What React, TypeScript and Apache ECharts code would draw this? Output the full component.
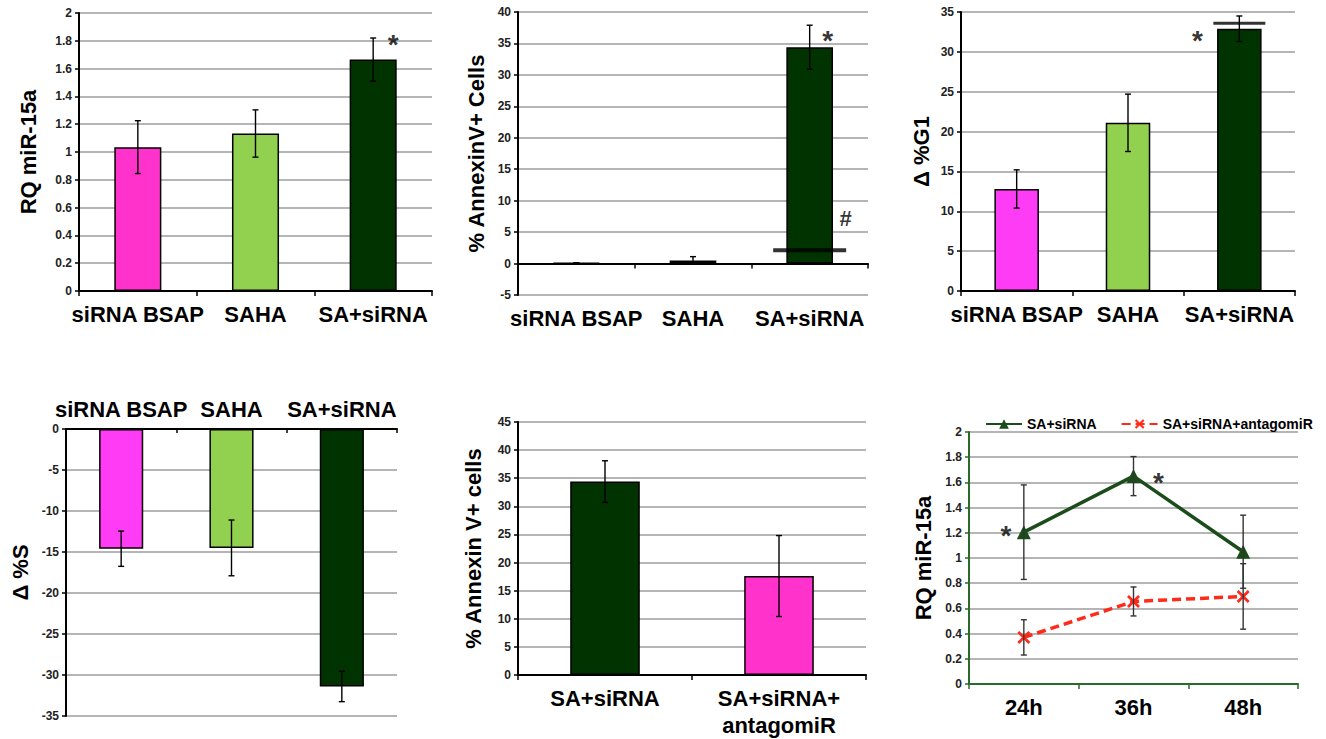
import React, { useEffect, useRef } from 'react';
import * as echarts from 'echarts';

const FONT = '"Liberation Sans", Arial, sans-serif';
const PINK = '#FF33CC';
const MAGENTA = '#FF3CF5';
const LIGHT = '#92D050';
const DARK = '#013301';
const LINE_GREEN = '#1A4D1A';
const LINE_RED = '#FF2A1A';

// Panel A: RQ miR-15a
const cats3 = ['siRNA BSAP', 'SAHA', 'SA+siRNA'];
const rqValues = [1.035, 1.133, 1.665];
const rqErrors = [0.19, 0.17, 0.155];
// Panel B: % AnnexinV+ Cells
const annexinValues = [0.1, 0.5, 34.4];
const annexinErrors = [0, 0.6, 3.5];
const annexinAntagomiRLevel = 2.1;
// Panel C: Δ %G1
const g1Values = [12.8, 21.1, 32.9];
const g1Errors = [2.4, 3.6, 1.6];
const g1Bracket = 33.6;
// Panel D: Δ %S
const sValues = [-14.6, -14.5, -31.4];
const sErrors = [2.15, 3.4, 1.85];
// Panel E: % Annexin V+ cells
const cats2 = ['SA+siRNA', 'SA+siRNA+\nantagomiR'];
const annexin2Values = [34.4, 17.6];
const annexin2Errors = [3.7, 7.2];
// Panel F: RQ miR-15a time course
const hours = ['24h', '36h', '48h'];
const lineSA = [1.205, 1.65, 1.05];
const lineSAErr = [0.375, 0.155, 0.29];
const lineAnt = [0.37, 0.655, 0.695];
const lineAntErr = [0.14, 0.115, 0.26];

const X_PATH = 'path://M0,1.5L1.5,0L5,3.5L8.5,0L10,1.5L6.5,5L10,8.5L8.5,10L5,6.5L1.5,10L0,8.5L3.5,5Z';

const errData = (vals: number[], errs: number[]) => vals.map((v, i) => [i, v - errs[i], v + errs[i]]);

const errorSeries = (axisIndex: number, data: number[][], color = '#000', xAxisIndex?: number) => ({
  type: 'custom',
  xAxisIndex: xAxisIndex ?? axisIndex,
  yAxisIndex: axisIndex,
  data,
  z: 6,
  encode: { x: 0, y: [1, 2] },
  renderItem: (params: any, api: any) => {
    const x = api.value(0);
    const lo = api.coord([x, api.value(1)]);
    const hi = api.coord([x, api.value(2)]);
    const cw = 3;
    const style = { stroke: color, lineWidth: 1.4 };
    return {
      type: 'group',
      children: [
        { type: 'line', shape: { x1: lo[0], y1: lo[1], x2: hi[0], y2: hi[1] }, style },
        { type: 'line', shape: { x1: hi[0] - cw, y1: hi[1], x2: hi[0] + cw, y2: hi[1] }, style },
        { type: 'line', shape: { x1: lo[0] - cw, y1: lo[1], x2: lo[0] + cw, y2: lo[1] }, style },
      ],
    };
  },
});

const barSeries = (axisIndex: number, vals: number[], colors: string[], xAxisIndex?: number) => ({
  type: 'bar',
  xAxisIndex: xAxisIndex ?? axisIndex,
  yAxisIndex: axisIndex,
  barWidth: '40%',
  data: vals.map((v, i) => ({ value: v, itemStyle: { color: colors[i], borderColor: '#000', borderWidth: 1.5 } })),
  z: 3,
});

const textMark = (axisIndex: number, data: number[][], text: string, offset: number[], fontSize = 28, xAxisIndex?: number) => ({
  type: 'scatter',
  xAxisIndex: xAxisIndex ?? axisIndex,
  yAxisIndex: axisIndex,
  data,
  symbolSize: 1,
  itemStyle: { color: 'transparent' },
  z: 10,
  label: {
    show: true,
    formatter: text,
    position: 'inside',
    offset,
    fontFamily: FONT,
    fontWeight: 'bold',
    fontSize,
    color: '#000',
  },
});

const hBar = (axisIndex: number, data: number[][], width: number, height: number, xAxisIndex?: number) => ({
  type: 'scatter',
  xAxisIndex: xAxisIndex ?? axisIndex,
  yAxisIndex: axisIndex,
  data,
  symbol: 'rect',
  symbolSize: [width, height],
  itemStyle: { color: '#000' },
  z: 8,
});

const yAxis = (gi: number, min: number, max: number, interval: number, name: string, nameGap: number, axisColor = '#000') => ({
  type: 'value',
  gridIndex: gi,
  min,
  max,
  interval,
  name,
  nameLocation: 'middle',
  nameGap,
  nameTextStyle: { fontFamily: FONT, fontWeight: 'bold', fontSize: 22, color: '#000' },
  axisLine: { show: true, lineStyle: { color: axisColor, width: 2 } },
  axisTick: { show: true, length: 4, lineStyle: { color: axisColor, width: 1.5 } },
  axisLabel: { fontFamily: FONT, fontWeight: 'bold', fontSize: 12, color: '#222', margin: 7 },
  splitLine: { show: true, lineStyle: { color: '#9c9c9c', width: 1.5 } },
});

const xAxis = (gi: number, data: string[], extra: any = {}, axisColor = '#000') => ({
  type: 'category',
  gridIndex: gi,
  data,
  axisLine: { show: true, lineStyle: { color: axisColor, width: 2 } },
  axisTick: { show: true, length: 5, interval: 0, alignWithLabel: false, lineStyle: { color: axisColor, width: 1.5 } },
  axisLabel: { interval: 0, fontFamily: FONT, fontWeight: 'bold', fontSize: 22, color: '#000', margin: 10, lineHeight: 27 },
  splitLine: { show: false },
  ...extra,
});

export default function App() {
  const ref = useRef<HTMLDivElement>(null);
  useEffect(() => {
    if (!ref.current) return;
    const chart = echarts.init(ref.current, undefined, { renderer: 'svg' });
    const option: any = {
      animation: false,
      backgroundColor: '#fff',
      grid: [
        { left: 79, top: 13, width: 353, height: 278 },
        { left: 518, top: 12, width: 350, height: 283 },
        { left: 961, top: 12, width: 334, height: 279 },
        { left: 66, top: 429, width: 331, height: 287 },
        { left: 518, top: 422, width: 348, height: 256 },
        { left: 969, top: 432, width: 329, height: 252 },
      ],
      legend: {
        left: 980,
        top: 412,
        itemWidth: 36,
        itemHeight: 12,
        itemGap: 24,
        textStyle: { fontFamily: FONT, fontWeight: 'bold', fontSize: 14, color: '#000' },
        data: ['SA+siRNA', 'SA+siRNA+antagomiR'],
      },
      xAxis: [
        xAxis(0, cats3),
        xAxis(1, cats3, {
          axisLine: { show: false, onZero: false },
          axisTick: { show: false },
        }),
        xAxis(2, cats3),
        xAxis(3, cats3, {
          position: 'top',
          axisTick: { show: true, inside: true, length: 4, interval: 0, lineStyle: { color: '#000', width: 1.5 } },
          axisLabel: { interval: 0, fontFamily: FONT, fontWeight: 'bold', fontSize: 22, color: '#000', margin: 9 },
        }),
        xAxis(4, cats2),
        xAxis(5, hours, {}, '#2A6A2A'),
        xAxis(1, cats3, {
          position: 'top',
          axisLine: { show: true, onZero: true, lineStyle: { color: '#000', width: 2 } },
          axisTick: { show: true, inside: true, length: 5, interval: 0, lineStyle: { color: '#000', width: 1.5 } },
          axisLabel: { show: false },
        }),
      ],
      yAxis: [
        yAxis(0, 0, 2, 0.2, 'RQ miR-15a', 40),
        yAxis(1, -5, 40, 5, '% AnnexinV+ Cells', 31),
        yAxis(2, 0, 35, 5, 'Δ %G1', 29),
        yAxis(3, -35, 0, 5, 'Δ %S', 35),
        yAxis(4, 0, 45, 5, '% Annexin V+ cells', 34),
        yAxis(5, 0, 2, 0.2, 'RQ miR-15a', 35, '#2A6A2A'),
      ],
      series: [
        // Panel A
        barSeries(0, rqValues, [PINK, LIGHT, DARK]),
        errorSeries(0, errData(rqValues, rqErrors)),
        textMark(0, [[2, 1.81]], '*', [20, 5]),
        // Panel B
        barSeries(1, annexinValues, [PINK, LIGHT, DARK]),
        errorSeries(1, errData(annexinValues, annexinErrors)),
        hBar(1, [[2, annexinAntagomiRLevel]], 73, 4),
        textMark(1, [[2, 36.5]], '*', [18, 6]),
        textMark(1, [[2, 7.2]], '#', [36, 0], 22),
        // Panel C
        barSeries(2, g1Values, [MAGENTA, LIGHT, DARK]),
        errorSeries(2, errData(g1Values, g1Errors)),
        hBar(2, [[2, g1Bracket]], 52, 3),
        textMark(2, [[2, 32.3]], '*', [-42, 7]),
        // Panel D
        barSeries(3, sValues, [MAGENTA, LIGHT, DARK]),
        errorSeries(3, errData(sValues, sErrors)),
        // Panel E
        barSeries(4, annexin2Values, [DARK, PINK]),
        errorSeries(4, errData(annexin2Values, annexin2Errors)),
        // Panel F
        {
          type: 'line',
          name: 'SA+siRNA',
          xAxisIndex: 5,
          yAxisIndex: 5,
          data: lineSA,
          symbol: 'triangle',
          symbolSize: 14,
          lineStyle: { color: LINE_GREEN, width: 3.5 },
          itemStyle: { color: LINE_GREEN },
          z: 5,
        },
        {
          type: 'line',
          name: 'SA+siRNA+antagomiR',
          xAxisIndex: 5,
          yAxisIndex: 5,
          data: lineAnt,
          symbol: X_PATH,
          symbolSize: 13,
          lineStyle: { color: LINE_RED, width: 3.5, type: [9, 5] },
          itemStyle: { color: LINE_RED },
          z: 5,
        },
        errorSeries(5, errData(lineSA, lineSAErr), '#333'),
        errorSeries(5, errData(lineAnt, lineAntErr), '#333'),
        textMark(5, [[0, 1.237]], '*', [-18, 7]),
        textMark(5, [[1, 1.657]], '*', [25, 7]),
      ],
    };
    chart.setOption(option);
    return () => chart.dispose();
  }, []);
  return (
    <div
      ref={ref}
      style={{ position: 'absolute', left: 0, top: 0, width: 1326, height: 739, background: '#fff' }}
    />
  );
}
